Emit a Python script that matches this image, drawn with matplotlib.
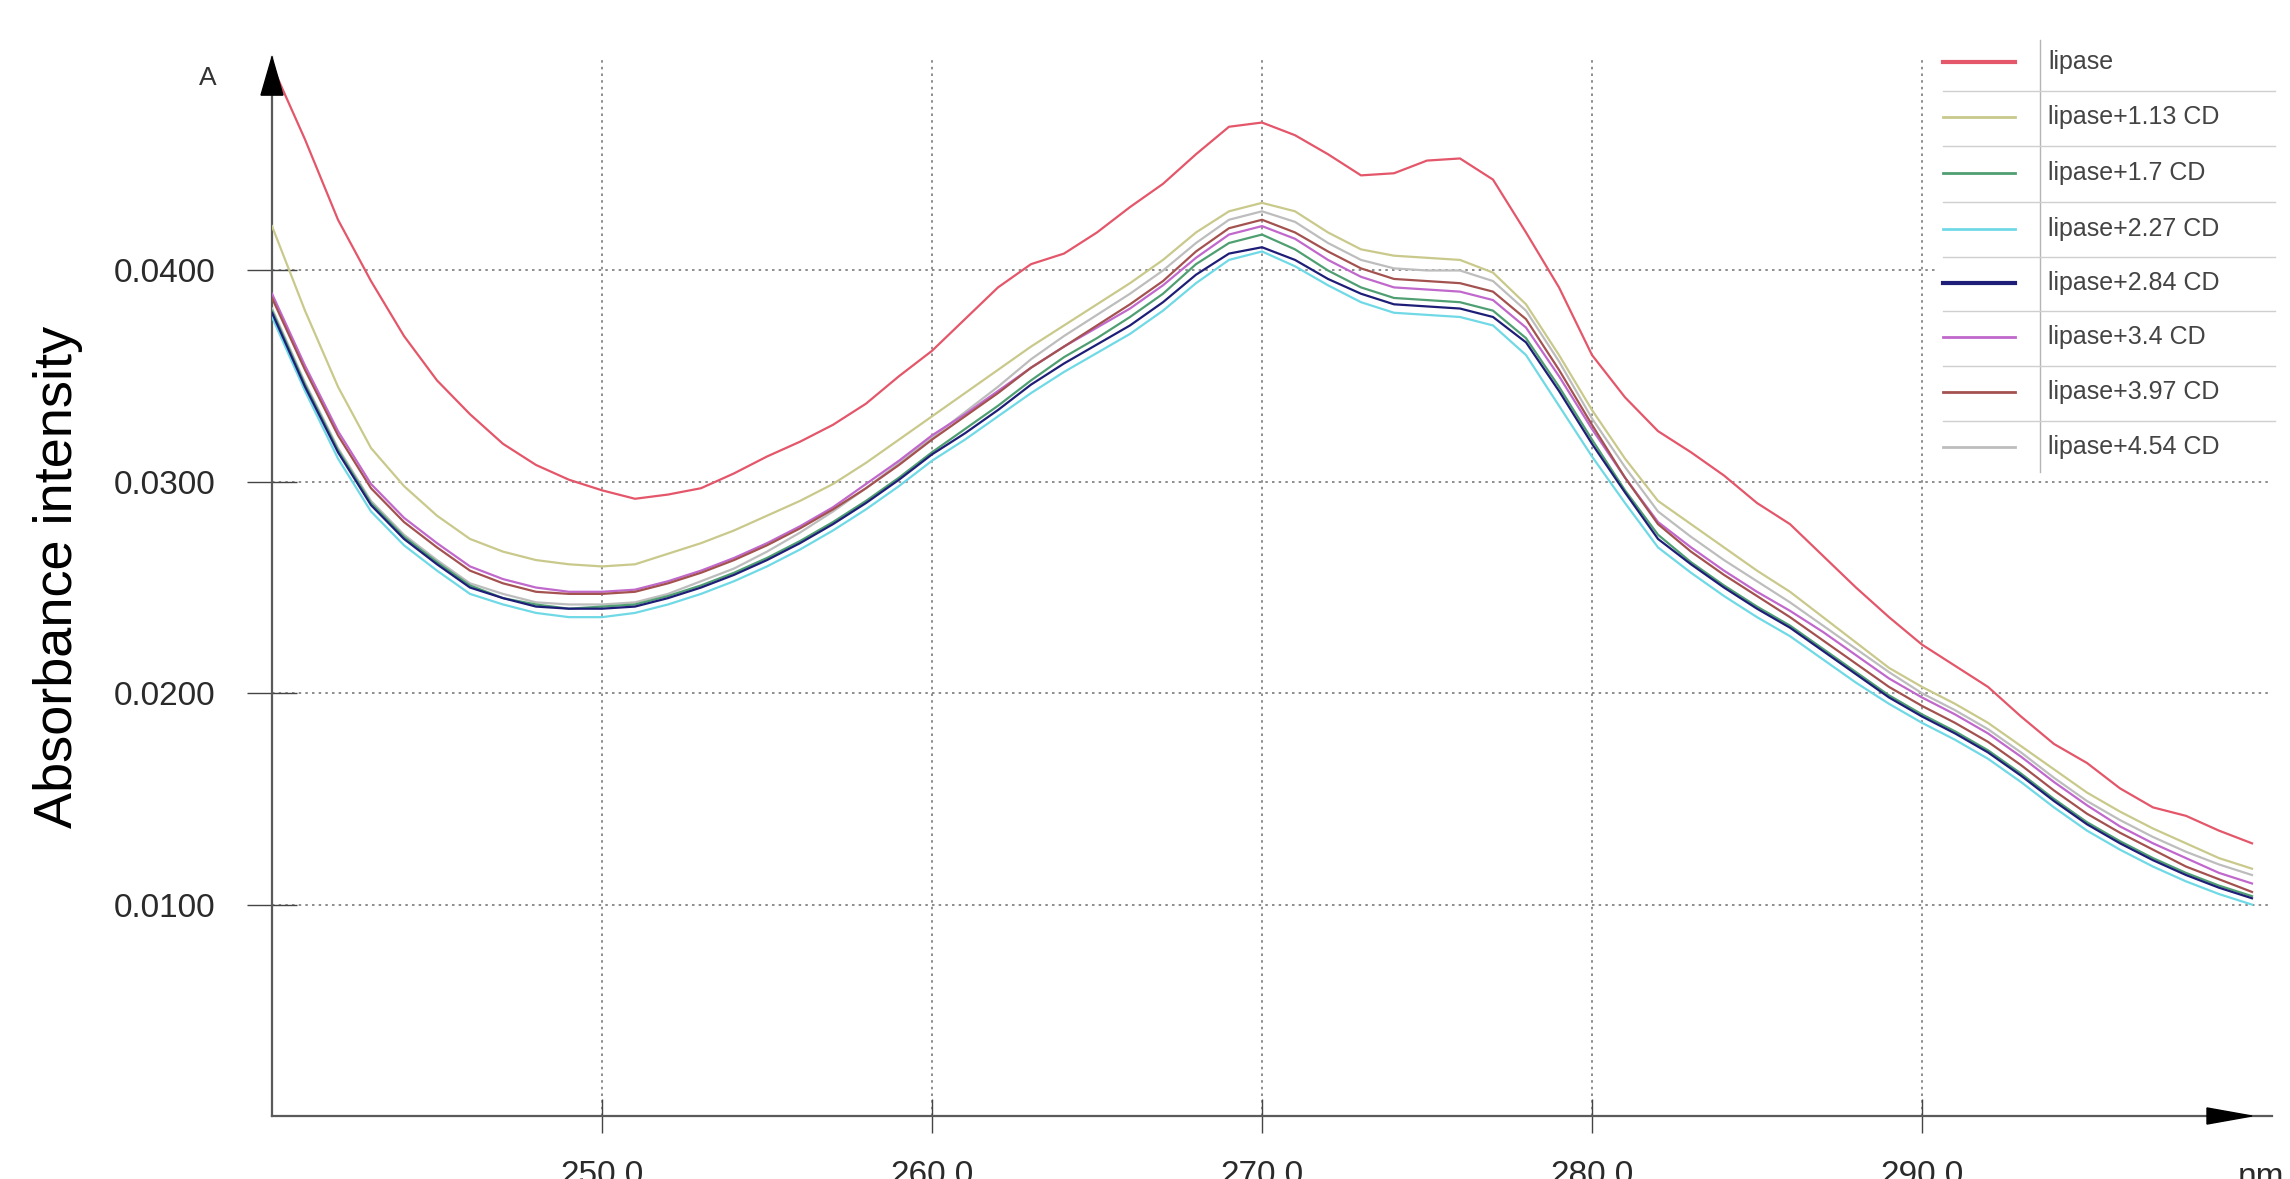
import matplotlib
matplotlib.use("Agg")
import matplotlib.pyplot as plt
from matplotlib.lines import Line2D
from matplotlib.patches import Polygon, Rectangle

# ---------------------------------------------------------------- data
wavelength = list(range(240, 301))

lipase = [0.0497, 0.0462, 0.0424, 0.0395, 0.0369, 0.0348, 0.0332, 0.0318, 0.0308, 0.0301,
          0.0296, 0.0292, 0.0294, 0.0297, 0.0304, 0.0312, 0.0319, 0.0327, 0.0337, 0.0350,
          0.0362, 0.0377, 0.0392, 0.0403, 0.0408, 0.0418, 0.0430, 0.0441, 0.0455, 0.0468,
          0.0470, 0.0464, 0.0455, 0.0445, 0.0446, 0.0452, 0.0453, 0.0443, 0.0418, 0.0392,
          0.0360, 0.0340, 0.0324, 0.0314, 0.0303, 0.0290, 0.0280, 0.0265, 0.0250, 0.0236,
          0.0223, 0.0213, 0.0203, 0.0189, 0.0176, 0.0167, 0.0155, 0.0146, 0.0142, 0.0135,
          0.0129]

cd_1_13 = [0.0421, 0.0381, 0.0345, 0.0316, 0.0298, 0.0284, 0.0273, 0.0267, 0.0263, 0.0261,
           0.0260, 0.0261, 0.0266, 0.0271, 0.0277, 0.0284, 0.0291, 0.0299, 0.0309, 0.0320,
           0.0331, 0.0342, 0.0353, 0.0364, 0.0374, 0.0384, 0.0394, 0.0405, 0.0418, 0.0428,
           0.0432, 0.0428, 0.0418, 0.0410, 0.0407, 0.0406, 0.0405, 0.0399, 0.0384, 0.0360,
           0.0334, 0.0311, 0.0291, 0.0280, 0.0269, 0.0258, 0.0248, 0.0236, 0.0224, 0.0212,
           0.0203, 0.0195, 0.0186, 0.0175, 0.0164, 0.0153, 0.0144, 0.0136, 0.0129, 0.0122,
           0.0117]

cd_1_7 = [0.0381, 0.0346, 0.0315, 0.0290, 0.0274, 0.0262, 0.0251, 0.0245, 0.0242, 0.0240,
          0.0241, 0.0242, 0.0246, 0.0251, 0.0257, 0.0264, 0.0272, 0.0281, 0.0291, 0.0302,
          0.0314, 0.0325, 0.0336, 0.0348, 0.0359, 0.0368, 0.0378, 0.0389, 0.0403, 0.0413,
          0.0417, 0.0410, 0.0400, 0.0392, 0.0387, 0.0386, 0.0385, 0.0381, 0.0368, 0.0345,
          0.0320, 0.0296, 0.0275, 0.0262, 0.0251, 0.0241, 0.0232, 0.0221, 0.0210, 0.0199,
          0.0190, 0.0182, 0.0173, 0.0162, 0.0150, 0.0139, 0.0130, 0.0122, 0.0115, 0.0109,
          0.0104]

cd_2_27 = [0.0378, 0.0343, 0.0311, 0.0286, 0.0270, 0.0258, 0.0247, 0.0242, 0.0238, 0.0236,
           0.0236, 0.0238, 0.0242, 0.0247, 0.0253, 0.0260, 0.0268, 0.0277, 0.0287, 0.0298,
           0.0310, 0.0320, 0.0331, 0.0342, 0.0352, 0.0361, 0.0370, 0.0381, 0.0394, 0.0405,
           0.0409, 0.0402, 0.0393, 0.0385, 0.0380, 0.0379, 0.0378, 0.0374, 0.0360, 0.0336,
           0.0312, 0.0290, 0.0269, 0.0257, 0.0246, 0.0236, 0.0227, 0.0216, 0.0205, 0.0195,
           0.0186, 0.0178, 0.0169, 0.0158, 0.0146, 0.0135, 0.0126, 0.0118, 0.0111, 0.0105,
           0.0100]

cd_2_84 = [0.0380, 0.0345, 0.0314, 0.0289, 0.0273, 0.0261, 0.0250, 0.0245, 0.0241, 0.0240,
           0.0240, 0.0241, 0.0245, 0.0250, 0.0256, 0.0263, 0.0271, 0.0280, 0.0290, 0.0301,
           0.0313, 0.0323, 0.0334, 0.0346, 0.0356, 0.0365, 0.0374, 0.0385, 0.0398, 0.0408,
           0.0411, 0.0405, 0.0396, 0.0389, 0.0384, 0.0383, 0.0382, 0.0378, 0.0366, 0.0343,
           0.0318, 0.0295, 0.0273, 0.0261, 0.0250, 0.0240, 0.0231, 0.0220, 0.0209, 0.0198,
           0.0189, 0.0181, 0.0172, 0.0161, 0.0149, 0.0138, 0.0129, 0.0121, 0.0114, 0.0108,
           0.0103]

cd_3_4 = [0.0389, 0.0355, 0.0324, 0.0299, 0.0283, 0.0271, 0.0260, 0.0254, 0.0250, 0.0248,
          0.0248, 0.0249, 0.0253, 0.0258, 0.0264, 0.0271, 0.0279, 0.0288, 0.0299, 0.0310,
          0.0322, 0.0332, 0.0343, 0.0354, 0.0364, 0.0373, 0.0382, 0.0393, 0.0406, 0.0417,
          0.0421, 0.0415, 0.0405, 0.0397, 0.0392, 0.0391, 0.0390, 0.0386, 0.0373, 0.0350,
          0.0325, 0.0302, 0.0281, 0.0269, 0.0258, 0.0248, 0.0239, 0.0229, 0.0218, 0.0207,
          0.0198, 0.0190, 0.0181, 0.0170, 0.0158, 0.0147, 0.0137, 0.0129, 0.0122, 0.0115,
          0.0110]

cd_3_97 = [0.0387, 0.0353, 0.0322, 0.0297, 0.0281, 0.0269, 0.0258, 0.0252, 0.0248, 0.0247,
           0.0247, 0.0248, 0.0252, 0.0257, 0.0263, 0.0270, 0.0278, 0.0287, 0.0297, 0.0308,
           0.0320, 0.0331, 0.0342, 0.0354, 0.0364, 0.0374, 0.0384, 0.0395, 0.0409, 0.0420,
           0.0424, 0.0418, 0.0409, 0.0401, 0.0396, 0.0395, 0.0394, 0.0390, 0.0377, 0.0353,
           0.0327, 0.0302, 0.0280, 0.0267, 0.0256, 0.0246, 0.0236, 0.0225, 0.0214, 0.0203,
           0.0194, 0.0186, 0.0177, 0.0166, 0.0154, 0.0143, 0.0134, 0.0126, 0.0118, 0.0112,
           0.0106]

cd_4_54 = [0.0382, 0.0347, 0.0316, 0.0291, 0.0275, 0.0263, 0.0252, 0.0247, 0.0243, 0.0242,
           0.0242, 0.0243, 0.0247, 0.0253, 0.0259, 0.0267, 0.0276, 0.0286, 0.0297, 0.0309,
           0.0321, 0.0333, 0.0345, 0.0358, 0.0369, 0.0379, 0.0389, 0.0400, 0.0413, 0.0424,
           0.0428, 0.0423, 0.0413, 0.0405, 0.0401, 0.0400, 0.0400, 0.0395, 0.0381, 0.0357,
           0.0330, 0.0307, 0.0286, 0.0274, 0.0263, 0.0253, 0.0243, 0.0232, 0.0221, 0.0210,
           0.0200, 0.0192, 0.0183, 0.0172, 0.0160, 0.0149, 0.0140, 0.0132, 0.0125, 0.0119,
           0.0114]

series_labels = ["lipase", "lipase+1.13 CD", "lipase+1.7 CD", "lipase+2.27 CD",
                 "lipase+2.84 CD", "lipase+3.4 CD", "lipase+3.97 CD", "lipase+4.54 CD"]
series_values = [lipase, cd_1_13, cd_1_7, cd_2_27, cd_2_84, cd_3_4, cd_3_97, cd_4_54]
series_colors = ["#e4566a", "#c9c98c", "#4f9f72", "#6fd9e6",
                 "#1e1e78", "#c068cc", "#a4524f", "#bdbdbd"]

x_ticks = [250, 260, 270, 280, 290]
x_tick_labels = ["250.0", "260.0", "270.0", "280.0", "290.0"]
y_ticks = [0.01, 0.02, 0.03, 0.04]
y_tick_labels = ["0.0100", "0.0200", "0.0300", "0.0400"]

# ---------------------------------------------------------------- figure
W, H = 2290, 1179
fig = plt.figure(figsize=(W / 100, H / 100), dpi=100)
fig.patch.set_facecolor("white")


def fx(px):
    return px / W


def fy(py):
    return 1 - py / H


left_px, right_px, top_px, bottom_px = 272, 2272, 57, 1116
ax = fig.add_axes([fx(left_px), fy(bottom_px), fx(right_px - left_px),
                   (bottom_px - top_px) / H])
ax.set_xlim(240, 240 + (right_px - left_px) / 33.0)
ax.set_ylim(0, 0.0501)

# spectra: draw the lipase curve last so it stays on top
order = [1, 7, 5, 6, 2, 3, 4, 0]
for i in order:
    ax.plot(wavelength, series_values[i], color=series_colors[i], lw=1.6,
            solid_joinstyle="round", zorder=3)

# axes frame
for side in ("top", "right"):
    ax.spines[side].set_visible(False)
for side in ("left", "bottom"):
    ax.spines[side].set_color("#5a5a5a")
    ax.spines[side].set_linewidth(1.6)

ax.grid(True, color="#7a7a7a", linestyle=(0, (1.5, 2.5)), linewidth=1.2, zorder=1)
ax.set_axisbelow(True)

tick_font = {"family": "Liberation Sans", "size": 24}
ax.set_xticks(x_ticks)
ax.set_xticklabels(x_tick_labels, fontdict=tick_font, color="#2a2a2a")
ax.set_yticks(y_ticks)
ax.set_yticklabels(y_tick_labels, fontdict=tick_font, color="#2a2a2a")
ax.tick_params(axis="x", direction="inout", length=24, width=1.0, color="#444444", pad=20)
ax.tick_params(axis="y", direction="inout", length=36, width=1.0, color="#444444", pad=23)

# axis arrow heads
ax.add_patch(Polygon([[0, 1.0], [-0.0055, 1 - 0.036], [0.0055, 1 - 0.036]],
                     closed=True, transform=ax.transAxes, clip_on=False,
                     facecolor="black", edgecolor="black", zorder=5))
ax.add_patch(Polygon([[0.99, 0.0], [0.9675, 0.0076], [0.9675, -0.0076]],
                     closed=True, transform=ax.transAxes, clip_on=False,
                     facecolor="black", edgecolor="black", zorder=5))

# axis captions
fig.text(fx(208), fy(78), "A", ha="center", va="center", fontsize=19,
         family="Liberation Sans", color="#333333")
fig.text(fx(2238), fy(1162), "nm", ha="left", va="top", fontsize=24,
         family="Liberation Sans", color="#2a2a2a")
fig.text(fx(58), fy(577), "Absorbance intensity", rotation=90, ha="center",
         va="center", fontsize=39, family="Liberation Sans", color="black")

# table-style legend in the upper right corner
fig.add_artist(Rectangle((fx(1935), fy(472)), fx(2282 - 1935), (472 - 38) / H,
                         transform=fig.transFigure, facecolor="white",
                         edgecolor="none", zorder=6))
fig.add_artist(Line2D([fx(2040), fx(2040)], [fy(40), fy(472)],
                      transform=fig.transFigure, color="#b5b5b5", lw=1.0, zorder=7))
row_y = [62, 117, 173, 229, 283, 337, 392, 447]
for k, (lab, col) in enumerate(zip(series_labels, series_colors)):
    yy = row_y[k]
    lw = 3.0 if k in (0, 4) else 2.0
    fig.add_artist(Line2D([fx(1943), fx(2015)], [fy(yy), fy(yy)],
                          transform=fig.transFigure, color=col, lw=lw, zorder=7))
    fig.text(fx(2048), fy(yy), lab, ha="left", va="center", fontsize=18,
             family="Liberation Sans", color="#444444", zorder=7)
    if k < len(row_y) - 1:
        sep = (row_y[k] + row_y[k + 1]) / 2 + 1
        fig.add_artist(Line2D([fx(1943), fx(2275)], [fy(sep), fy(sep)],
                              transform=fig.transFigure, color="#cfcfcf",
                              lw=1.0, zorder=7))

fig.savefig("out.png", dpi=100, facecolor="white")
